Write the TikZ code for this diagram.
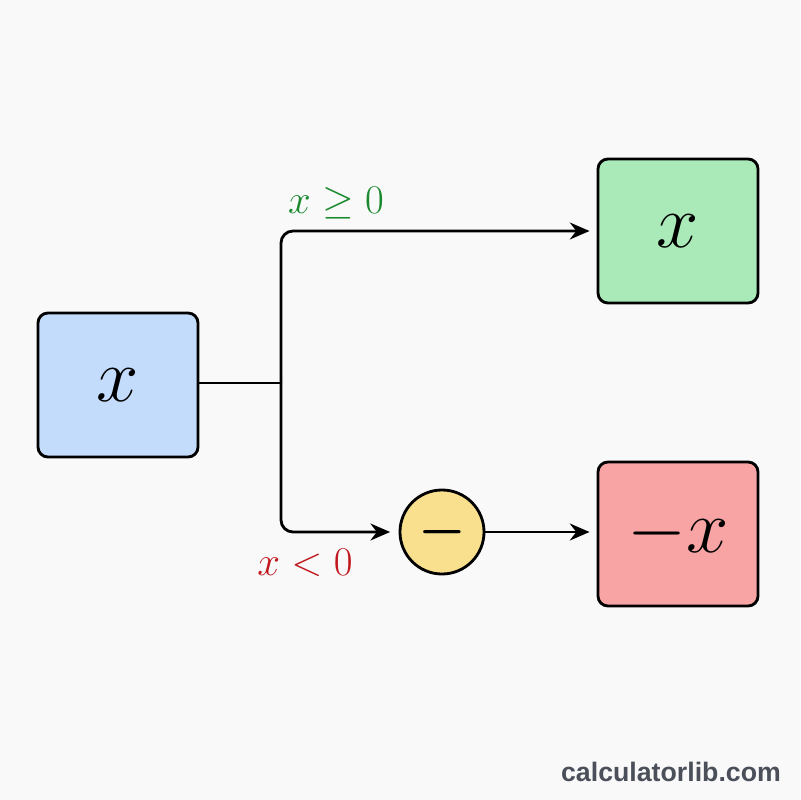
\documentclass[tikz,border=0pt]{standalone}
\usepackage{fix-cm}
\usepackage{bm}
\usepackage{fontspec}
\newfontfamily\wmfont{Liberation Sans}
\usetikzlibrary{arrows.meta}
\definecolor{bgcol}{HTML}{F9F9F9}
\definecolor{bluefill}{HTML}{C4DCFB}
\definecolor{greenfill}{HTML}{AAEAB8}
\definecolor{redfill}{HTML}{F9A4A4}
\definecolor{yellowfill}{HTML}{F9E08E}
\definecolor{greentext}{HTML}{1B8A2F}
\definecolor{redtext}{HTML}{C0181E}
\definecolor{wmgray}{HTML}{4A4F5A}
\tikzset{
  valbox/.style={draw, line width=2pt, rounded corners=0.25cm, minimum width=4cm, minimum height=3.6cm, font=\fontsize{54}{62}\selectfont},
  opcirc/.style={draw, circle, line width=2pt, fill=yellowfill, minimum size=2.1cm, inner sep=0pt, font=\fontsize{38}{44}\selectfont},
  cond/.style={font=\fontsize{29}{34}\selectfont},
}
\begin{document}
\begin{tikzpicture}[x=0.025cm, y=-0.025cm, >={Stealth[length=14pt,width=12pt]}, line width=2pt]
\fill[bgcol] (0,0) rectangle (800,800);
\useasboundingbox (0,0) rectangle (800,800);
% entrada
\node[valbox, fill=bluefill] (in) at (118,385) {$x$};
% salidas
\node[valbox, fill=greenfill] (pos) at (678,231) {$x$};
\node[valbox, fill=redfill] (neg) at (678,534) {$-x$};
\node[opcirc] (minus) at (442,532) {$\bm{-}$};
\coordinate (split) at (281,383);
\draw (in.east |- split) -- (split);
\draw[->, rounded corners=0.3cm, shorten >=5pt] (split) |- (pos);
\draw[->, rounded corners=0.3cm, shorten >=6pt] (split) |- (minus);
\draw[->, shorten >=5pt] (minus) -- (minus -| neg.west);
% condiciones
\node[cond, text=greentext] (ge) at (336,203) {$x \geq 0$};
\node[cond, text=redtext] (lt) at (305,563) {$x < 0$};
\node[font=\wmfont\bfseries\fontsize{19}{22}\selectfont, text=wmgray] (wm) at (671,772) {calculatorlib.com};
\end{tikzpicture}
\end{document}
